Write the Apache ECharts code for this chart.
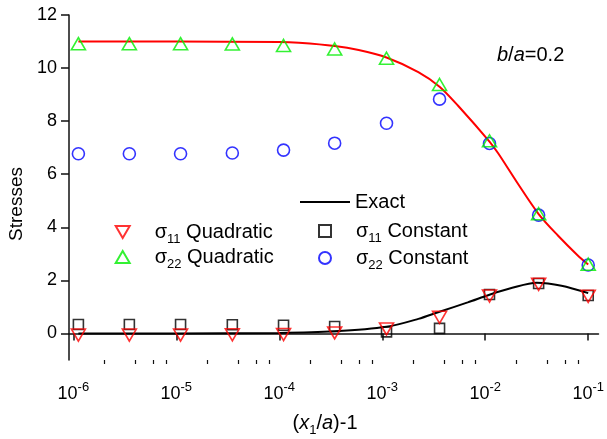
<!DOCTYPE html>
<html>
<head>
<meta charset="utf-8">
<script src="https://cdn.jsdelivr.net/npm/echarts@6/dist/echarts.min.js"></script>
<style>
html,body{margin:0;padding:0;background:#fff;}
#chart{width:607px;height:439px;}
</style>
</head>
<body>
<div id="chart"></div>
<script>
// ---- data ----
const xValues = [1.12e-6, 3.5e-6, 1.1e-5, 3.5e-5, 1.1e-4, 3.45e-4, 1.1e-3, 3.6e-3, 1.1e-2, 3.3e-2, 1.0e-1];
const s11Quadratic = [-0.06, -0.06, -0.06, -0.05, -0.04, 0.02, 0.17, 0.61, 1.41, 1.85, 1.40];
const s11Constant  = [0.34, 0.34, 0.34, 0.33, 0.31, 0.26, 0.06, 0.19, 1.47, 1.88, 1.43];
const s22Quadratic = [10.92, 10.92, 10.92, 10.91, 10.85, 10.72, 10.37, 9.38, 7.26, 4.51, 2.61];
const s22Constant  = [6.77, 6.77, 6.77, 6.80, 6.91, 7.17, 7.92, 8.83, 7.16, 4.46, 2.58];

const exactS22X = [1.12e-6, 1e-5, 1e-4, 1.55e-4, 3.45e-4, 5.9e-4, 1.1e-3, 2.24e-3, 3.6e-3, 5.45e-3, 1.1e-2, 1.34e-2, 2.07e-2, 3.3e-2, 5.05e-2, 7.87e-2, 0.1];
const exactS22Y = [11.0, 11.0, 10.98, 10.95, 10.83, 10.68, 10.40, 9.85, 9.30, 8.58, 7.23, 6.78, 5.65, 4.50, 3.70, 2.95, 2.60];
const exactS11X = [1.12e-6, 1e-5, 1e-4, 3.45e-4, 1.1e-3, 2.24e-3, 3.6e-3, 6.76e-3, 1.1e-2, 1.83e-2, 3.16e-2, 5.5e-2, 0.1];
const exactS11Y = [0.0, 0.0, 0.02, 0.08, 0.25, 0.55, 0.82, 1.17, 1.46, 1.72, 1.91, 1.80, 1.52];

const xTickExponents = [-6, -5, -4, -3, -2, -1];
const xMinorMultipliers = [2, 4, 6, 8];
const yTicks = [0, 2, 4, 6, 8, 10, 12];

// ---- build ----
const FONT = 'Liberation Sans, Arial, Helvetica, sans-serif';
const lg = v => Math.log10(v);
const pairs = (xs, ys) => xs.map((x, i) => [lg(x), ys[i]]);
const minorTicks = [];
for (let d = -7; d <= -1; d++) xMinorMultipliers.forEach(m => minorTicks.push(d + lg(m)));
const X_MIN = -6.042, X_MAX = -0.9;
const DOWN_TRIANGLE = 'path://M0,0 L14,0 L7,12 Z';

const hollow = (c) => ({ color: 'rgba(0,0,0,0)', borderColor: c, borderWidth: 1.6 });

const legendRich = {
  sp: { width: 20, fontSize: 20, lineHeight: 28 },
  g: { fontSize: 20, fontFamily: FONT, color: '#000', lineHeight: 28, verticalAlign: 'middle' },
  sub: { fontSize: 13, fontFamily: FONT, color: '#000', lineHeight: 13, verticalAlign: 'bottom' },
  t: { fontSize: 20, fontFamily: FONT, color: '#000', lineHeight: 28, verticalAlign: 'middle' }
};
const legendFmt = name => {
  const m = name.match(/^σ(\d+) (.*)$/);
  return m ? '{sp| }{g|σ}{sub|' + m[1] + '}{t| ' + m[2] + '}' : '{t|' + name + '}';
};
const mkLegend = (name, left, top, w, h) => ({
  data: [name], left: left, top: top, itemWidth: w, itemHeight: h, padding: 0,
  formatter: legendFmt, selectedMode: false,
  textStyle: { fontSize: 20, fontFamily: FONT, color: '#000', rich: legendRich }
});

const legends = [
  Object.assign(mkLegend('Exact', 300, 192, 50, 2), { icon: 'rect' }),
  Object.assign(mkLegend('σ11 Quadratic', 114.7, 222, 14, 12), { icon: DOWN_TRIANGLE }),
  mkLegend('σ22 Quadratic', 114.7, 247, 14, 12),
  mkLegend('σ11 Constant', 318, 221, 12, 12),
  mkLegend('σ22 Constant', 318, 248, 12, 12)
];

const chart = echarts.init(document.getElementById('chart'), null, { renderer: 'canvas' });
chart.setOption({
  animation: false,
  backgroundColor: '#fff',
  grid: { left: 69, right: 6, top: 15, bottom: 79, containLabel: false },
  legend: legends,
  xAxis: [
    {
      type: 'value', min: X_MIN, max: X_MAX, gridIndex: 0,
      axisLine: { show: true, lineStyle: { color: '#111', width: 1.5 } },
      axisTick: { show: true, inside: false, length: 7, customValues: xTickExponents, lineStyle: { color: '#111', width: 1.5 } },
      axisLabel: {
        show: true, customValues: xTickExponents, margin: 21,
        formatter: v => '{b|10}{sup|' + Math.round(v) + '}',
        rich: {
          b: { fontSize: 18, fontFamily: FONT, color: '#000', lineHeight: 26, verticalAlign: 'middle' },
          sup: { fontSize: 13, fontFamily: FONT, color: '#000', lineHeight: 13, verticalAlign: 'top' }
        }
      },
      splitLine: { show: false }
    },
    {
      type: 'value', min: X_MIN, max: X_MAX, gridIndex: 0, position: 'bottom',
      axisLine: { show: false },
      axisTick: { show: true, inside: false, length: 4, customValues: minorTicks.filter(v => v > X_MIN && v < X_MAX), lineStyle: { color: '#111', width: 1.2 } },
      axisLabel: { show: false },
      splitLine: { show: false }
    }
  ],
  yAxis: {
    type: 'value', min: -1, max: 12,
    axisLine: { show: true, lineStyle: { color: '#111', width: 1.5 } },
    axisTick: { show: true, inside: false, length: 8, customValues: yTicks, lineStyle: { color: '#111', width: 1.5 } },
    axisLabel: { customValues: yTicks, margin: 12, fontSize: 18, fontFamily: FONT, color: '#000' },
    splitLine: { show: false }
  },
  graphic: [
    { type: 'text', x: 17, y: 204, rotation: Math.PI / 2,
      style: { text: 'Stresses', fontSize: 19, fontFamily: FONT, fill: '#000', align: 'center', verticalAlign: 'middle' } },
    { type: 'text', x: 325, y: 423,
      style: { text: '({i|x}{s|1}/{i|a})-1', fontSize: 20, fontFamily: FONT, fill: '#000', align: 'center', verticalAlign: 'middle',
        rich: {
          i: { fontSize: 20, fontStyle: 'italic', fontFamily: FONT, fill: '#000', lineHeight: 28, verticalAlign: 'middle' },
          s: { fontSize: 13, fontFamily: FONT, fill: '#000', lineHeight: 13, verticalAlign: 'bottom' }
        } } },
    { type: 'text', x: 497, y: 55,
      style: { text: '{i|b}/{i|a}=0.2', fontSize: 20, fontFamily: FONT, fill: '#000', align: 'left', verticalAlign: 'middle',
        rich: { i: { fontSize: 20, fontStyle: 'italic', fontFamily: FONT, fill: '#000' } } } }
  ],
  series: [
    { name: 'Exact σ22', type: 'line', data: pairs(exactS22X, exactS22Y), showSymbol: false, smooth: 0.3,
      lineStyle: { color: '#ff0000', width: 2 }, itemStyle: { color: '#ff0000' }, z: 2 },
    { name: 'Exact', type: 'line', data: pairs(exactS11X, exactS11Y), showSymbol: false, smooth: 0.3,
      lineStyle: { color: '#000', width: 2 }, itemStyle: { color: '#000' }, z: 2 },
    { name: 'σ11 Quadratic', type: 'scatter', data: pairs(xValues, s11Quadratic), symbol: 'triangle', symbolRotate: 180,
      symbolSize: [14, 12], itemStyle: hollow('#ff0000'), z: 5 },
    { name: 'σ22 Quadratic', type: 'scatter', data: pairs(xValues, s22Quadratic), symbol: 'triangle',
      symbolSize: [14, 12], itemStyle: hollow('#00ee00'), z: 5 },
    { name: 'σ11 Constant', type: 'scatter', data: pairs(xValues, s11Constant), symbol: 'rect',
      symbolSize: 10, itemStyle: hollow('#000000'), z: 4 },
    { name: 'σ22 Constant', type: 'scatter', data: pairs(xValues, s22Constant), symbol: 'circle',
      symbolSize: 12, itemStyle: hollow('#0000ff'), z: 3 }
  ]
});
</script>
</body>
</html>
